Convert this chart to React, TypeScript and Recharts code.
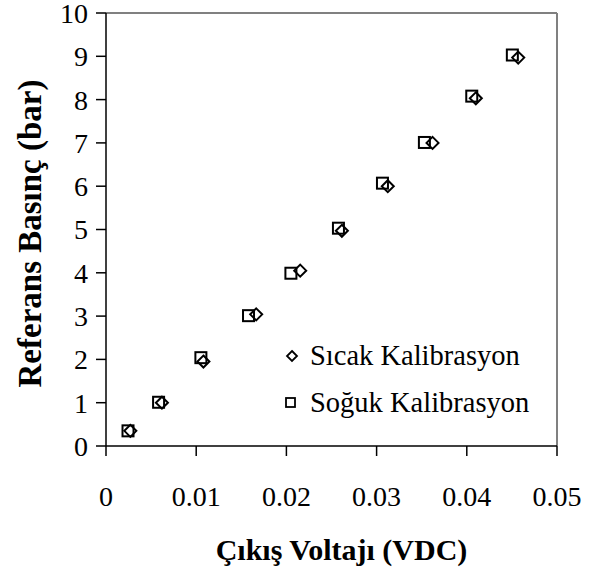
import { ScatterChart, Scatter, XAxis, YAxis, ReferenceLine, Legend } from 'recharts';

const sicakVoltage = [0.0027, 0.0062, 0.0108, 0.01665, 0.02153, 0.02615, 0.03124, 0.0362, 0.041, 0.0457];
const sicakPressure = [0.35, 1.0, 1.95, 3.04, 4.05, 4.97, 6.0, 7.0, 8.03, 8.97];
const sogukVoltage = [0.00244, 0.00583, 0.01052, 0.0158, 0.0205, 0.02577, 0.03065, 0.0353, 0.04055, 0.04505];
const sogukPressure = [0.35, 1.01, 2.04, 3.01, 3.99, 5.03, 6.07, 7.01, 8.08, 9.03];
const seriesNames = ['Sıcak Kalibrasyon', 'Soğuk Kalibrasyon'];
const xTicks = [0, 0.01, 0.02, 0.03, 0.04, 0.05];
const yTicks = [0, 1, 2, 3, 4, 5, 6, 7, 8, 9, 10];

const sicakData = sicakVoltage.map((x, i) => ({ x, y: sicakPressure[i] }));
const sogukData = sogukVoltage.map((x, i) => ({ x, y: sogukPressure[i] }));

const FONT = '"Liberation Serif", "Times New Roman", serif';

const Diamond = (props: any) => {
  const { cx, cy } = props;
  const r = 6;
  return (
    <polygon
      points={`${cx},${cy - r} ${cx + r},${cy} ${cx},${cy + r} ${cx - r},${cy}`}
      fill="none"
      stroke="#000"
      strokeWidth={2}
    />
  );
};

const Square = (props: any) => {
  const { cx, cy } = props;
  return <rect x={cx - 5.5} y={cy - 5.5} width={11} height={11} fill="none" stroke="#000" strokeWidth={2} />;
};

const renderLegend = (props: any) => {
  // keep the order of the original legend, not alphabetical
  const items = [...(props.payload || [])].sort(
    (a: any, b: any) => seriesNames.indexOf(a.value) - seriesNames.indexOf(b.value)
  );
  return (
    <div style={{ fontFamily: FONT, fontSize: 28.5, color: '#000' }}>
      {items.map((entry: any) => (
        <div key={entry.value} style={{ display: 'flex', alignItems: 'center', height: 47 }}>
          <svg width={20} height={20}>
            {entry.type === 'diamond' ? (
              <polygon points="10,5 15,10 10,15 5,10" fill="none" stroke="#000" strokeWidth={1.8} />
            ) : (
              <rect x={4} y={5} width={9} height={9} fill="none" stroke="#000" strokeWidth={1.8} />
            )}
          </svg>
          <span style={{ marginLeft: 8, whiteSpace: 'nowrap' }}>{entry.value}</span>
        </div>
      ))}
    </div>
  );
};

const XTitle = (props: any) => {
  const { viewBox } = props;
  return (
    <text
      x={viewBox.x + viewBox.width / 2 + 10}
      y={viewBox.y + 114}
      textAnchor="middle"
      fontFamily={FONT}
      fontWeight="bold"
      fontSize={30}
      fill="#000"
    >
      Çıkış Voltajı (VDC)
    </text>
  );
};

const YTitle = (props: any) => {
  const { viewBox } = props;
  const x = viewBox.x + 30;
  const y = viewBox.y + viewBox.height / 2 + 4;
  return (
    <text
      x={x}
      y={y}
      transform={`rotate(-90, ${x}, ${y})`}
      textAnchor="middle"
      dominantBaseline="central"
      fontFamily={FONT}
      fontWeight="bold"
      fontSize={33}
      fill="#000"
    >
      Referans Basınç (bar)
    </text>
  );
};

const tickStyle = { fill: '#000', fontSize: 28, fontFamily: FONT };

export default function App() {
  return (
    <div style={{ position: 'absolute', left: 0, top: 0, width: 594, height: 578, background: '#fff' }}>
      <ScatterChart width={594} height={578} margin={{ top: 13, right: 37, bottom: 0, left: 0 }}>
        <XAxis
          type="number"
          dataKey="x"
          domain={[0, 0.05]}
          ticks={xTicks}
          interval={0}
          allowDataOverflow
          height={132}
          tickSize={10}
          tickMargin={30}
          axisLine={{ stroke: '#000', strokeWidth: 1.5 }}
          tickLine={{ stroke: '#000', strokeWidth: 1.5 }}
          tick={tickStyle}
          label={XTitle}
        />
        <YAxis
          type="number"
          dataKey="y"
          domain={[0, 10]}
          ticks={yTicks}
          interval={0}
          allowDataOverflow
          width={106}
          tickSize={10}
          tickMargin={8}
          axisLine={{ stroke: '#000', strokeWidth: 1.5 }}
          tickLine={{ stroke: '#000', strokeWidth: 1.5 }}
          tick={tickStyle}
          label={YTitle}
        />
        <ReferenceLine y={10} stroke="#808080" strokeWidth={2} />
        <ReferenceLine x={0.05} stroke="#808080" strokeWidth={2} />
        <Scatter
          name={seriesNames[0]}
          data={sicakData}
          legendType="diamond"
          shape={Diamond}
          isAnimationActive={false}
        />
        <Scatter
          name={seriesNames[1]}
          data={sogukData}
          legendType="square"
          shape={Square}
          isAnimationActive={false}
        />
        <Legend
          layout="vertical"
          align="center"
          verticalAlign="middle"
          content={renderLegend}
          wrapperStyle={{ position: 'absolute', left: 282, top: 332, width: 290 }}
        />
      </ScatterChart>
    </div>
  );
}
